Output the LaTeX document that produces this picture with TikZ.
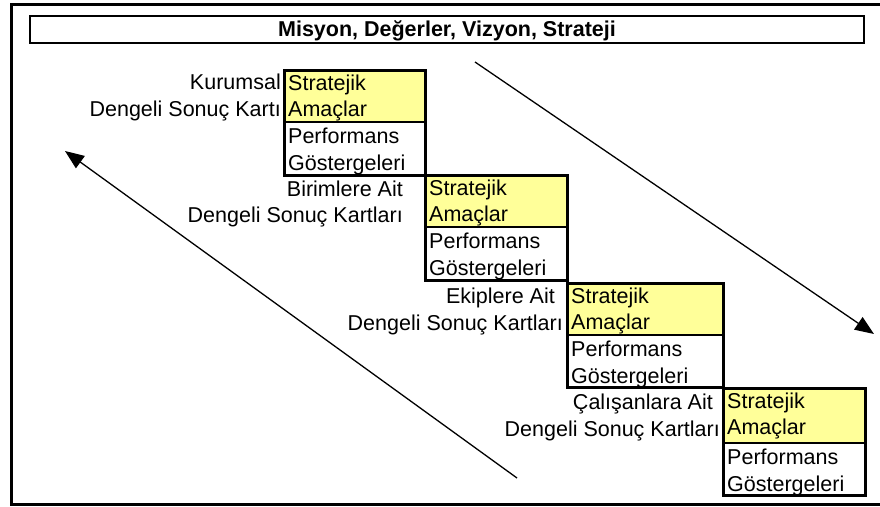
\documentclass[tikz,border=0pt]{standalone}
\usepackage{fontspec}
\setmainfont{Liberation Sans}
\usetikzlibrary{arrows.meta}
\definecolor{goalfill}{RGB}{255,255,153}
\tikzset{
  frameline/.style={line width=3pt},
  goalbox/.style={draw, line width=2pt, fill=goalfill, anchor=north west, inner sep=0pt, outer sep=0pt},
  kpibox/.style={draw, line width=2pt, fill=white, anchor=north west, inner sep=0pt, outer sep=0pt},
  boxtext/.style={anchor=base west, inner sep=0pt, font=\fontsize{21.5}{26}\selectfont},
  sidelabel/.style={anchor=base east, inner sep=0pt, font=\fontsize{21.5}{26}\selectfont},
  flow/.style={line width=1.3pt, -{Triangle[length=19pt,width=15pt]}}
}
% One stair step: left, right, top, divider, bottom, name suffix
\newcommand{\cardstep}[6]{%
  \node[goalbox, minimum width={(#2-#1)*1pt}, minimum height={(#4-#3)*1pt}] (g#6) at (#1,#3) {};
  \node[kpibox, minimum width={(#2-#1)*1pt}, minimum height={(#5-#4)*1pt}] (p#6) at (#1,#4) {};
  \draw[line width=3pt] (#1,#3) rectangle (#2,#5);
  \node[boxtext] (gs#6) at (#1+4,#3+20) {Stratejik};
  \node[boxtext] (ga#6) at (#1+4,#3+46.5) {Amaçlar};
  \node[boxtext] (pp#6) at (#1+4,#4+21) {Performans};
  \node[boxtext] (pg#6) at (#1+4,#4+48) {Göstergeleri};
}
\begin{document}
\begin{tikzpicture}[x=1pt,y=-1pt]
  \useasboundingbox (0,0) rectangle (880,506);
  % outer frame (its right edge lies beyond the page)
  \draw[frameline] (890,4.5) -- (11.5,4.5) -- (11.5,504) -- (890,504);
  % title bar
  \draw[line width=2pt] (30,16) rectangle (864,42.5);
  \node[anchor=base, inner sep=0pt, font=\fontsize{21.5}{26}\selectfont\bfseries] (title) at (447,36.5) {Misyon, Değerler, Vizyon, Strateji};
  % stairs of scorecards
  \cardstep{284}{425}{70}{122}{175}{a}
  \cardstep{425}{567}{175}{227}{280}{b}
  \cardstep{567}{723}{283}{335}{387}{c}
  \cardstep{723}{865}{388}{443}{495}{d}
  % labels left of each step
  \node[sidelabel] (la1) at (281,89.5) {Kurumsal};
  \node[sidelabel] (la2) at (281,116) {Dengeli Sonuç Kartı};
  \node[sidelabel] (lb1) at (403,196) {Birimlere Ait};
  \node[sidelabel] (lb2) at (403,222.5) {Dengeli Sonuç Kartları};
  \node[sidelabel] (lc1) at (555,303) {Ekiplere Ait};
  \node[sidelabel] (lc2) at (563,330) {Dengeli Sonuç Kartları};
  \node[sidelabel] (ld1) at (713,409) {Çalışanlara Ait};
  \node[sidelabel] (ld2) at (720,436) {Dengeli Sonuç Kartları};
  % cascade down and feedback up
  \coordinate (downS) at (475,62);
  \coordinate (downE) at (874,334);
  \coordinate (upS) at (517,478);
  \coordinate (upE) at (65,151);
  \draw[flow] (downS) -- (downE);
  \draw[flow] (upS) -- (upE);
\end{tikzpicture}
\end{document}
